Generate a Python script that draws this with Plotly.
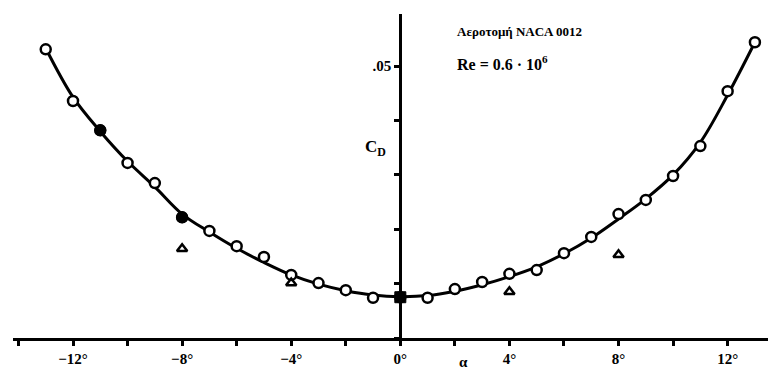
import plotly.graph_objects as go

# angle of attack (deg) for measured points
alpha_pts = [-13, -12, -11, -10, -9, -8, -7, -6, -5, -4, -3, -2, -1, 0,
             1, 2, 3, 4, 5, 6, 7, 8, 9, 10, 11, 12, 13]
cd_pts = [0.0531, 0.0436, 0.0382, 0.0322, 0.0285, 0.0222, 0.0197, 0.0169, 0.0149,
          0.0116, 0.0101, 0.0088, 0.0074, 0.0075, 0.0074, 0.0090, 0.0103, 0.0118,
          0.0125, 0.0156, 0.0186, 0.0228, 0.0254, 0.0298, 0.0353, 0.0454, 0.0544]

# filled markers
alpha_filled = [-11, -8]
cd_filled = [0.0382, 0.0222]
alpha_square = [0]
cd_square = [0.0075]

# triangle series
alpha_tri = [-8, -4, 4, 8]
cd_tri = [0.0164, 0.0101, 0.0085, 0.0153]

# smooth fitted curve
alpha_curve = [-13, -12, -11, -10, -9, -8, -7, -6, -5, -4, -3, -2, -1, 0,
               1, 2, 3, 4, 5, 6, 7, 8, 9, 10, 11, 12, 13]
cd_curve = [0.0533, 0.0443, 0.0380, 0.0325, 0.0278, 0.0228, 0.0195, 0.0165, 0.0139,
            0.0116, 0.0099, 0.0087, 0.0079, 0.0076, 0.0078, 0.0086, 0.0098, 0.0113,
            0.0131, 0.0155, 0.0184, 0.0219, 0.0256, 0.0300, 0.0360, 0.0447, 0.0544]

x_tickvals = [-12, -8, -4, 0, 4, 8, 12]
x_ticktext = ["−12°", "−8°", "−4°", "0°", "4°", "8°", "12°"]
y_tickvals = [0.05]
y_ticktext = [".05"]

FONT = "Liberation Serif"
xmin, xmax = -14.2, 13.48
ymin, ymax = 0.0, 0.0596

fig = go.Figure()
fig.add_trace(go.Scatter(x=alpha_curve, y=cd_curve, mode="lines",
                         line=dict(color="black", width=3, shape="spline"),
                         hoverinfo="skip", showlegend=False))
fig.add_trace(go.Scatter(x=alpha_pts, y=cd_pts, mode="markers",
                         marker=dict(symbol="circle", size=10, color="white",
                                     line=dict(color="black", width=2.5)),
                         showlegend=False))
fig.add_trace(go.Scatter(x=alpha_filled, y=cd_filled, mode="markers",
                         marker=dict(symbol="circle", size=10, color="black",
                                     line=dict(color="black", width=2)),
                         showlegend=False))
fig.add_trace(go.Scatter(x=alpha_square, y=cd_square, mode="markers",
                         marker=dict(symbol="square", size=11, color="black",
                                     line=dict(color="black", width=1)),
                         showlegend=False))
fig.add_trace(go.Scatter(x=alpha_tri, y=cd_tri, mode="markers",
                         marker=dict(symbol="triangle-up-open", size=9, color="black",
                                     line=dict(color="black", width=2.5)),
                         showlegend=False))

tickfont = dict(family=FONT, size=15, color="black")

fig.update_layout(
    width=768, height=374,
    margin=dict(l=13, r=0, t=14, b=36),
    paper_bgcolor="white", plot_bgcolor="white",
    font=dict(family=FONT, size=14, color="black"),
    xaxis=dict(range=[xmin, xmax], tickvals=x_tickvals,
               ticktext=["<b>" + t + "</b>" for t in x_ticktext],
               showgrid=False, zeroline=False, showline=True, linecolor="black",
               linewidth=3, ticks="outside", ticklen=5, tickwidth=2.5, tickcolor="black",
               minor=dict(tickmode="linear", tick0=0, dtick=2, ticks="outside",
                          ticklen=5, tickwidth=2.5, tickcolor="black", showgrid=False),
               tickfont=tickfont, ticklabelstandoff=0),
    yaxis=dict(range=[ymin, ymax], tickvals=y_tickvals,
               ticktext=["<b>" + t + "</b>" for t in y_ticktext],
               anchor="free", position=(0 - xmin) / (xmax - xmin),
               showgrid=False, zeroline=False, showline=True, linecolor="black",
               linewidth=3, ticks="outside", ticklen=5, tickwidth=2.5, tickcolor="black",
               minor=dict(tickmode="linear", tick0=0, dtick=0.01, ticks="outside",
                          ticklen=5, tickwidth=2.5, tickcolor="black", showgrid=False),
               tickfont=tickfont, ticklabelstandoff=0),
    annotations=[
        dict(x=-0.9, y=0.035, xref="x", yref="y", text="<b>C<sub>D</sub></b>",
             showarrow=False, font=dict(family=FONT, size=17)),
        dict(x=2.3, y=-0.074, xref="x", yref="paper", yanchor="middle", text="<b>α</b>",
             showarrow=False, font=dict(family=FONT, size=15)),
        dict(x=2.0, y=0.0563, xref="x", yref="y", text="<b>Αεροτομή NACA 0012</b>",
             showarrow=False, xanchor="left", font=dict(family=FONT, size=13)),
        dict(x=2.0, y=0.0505, xref="x", yref="y", text="<b>Re = 0.6 · 10<sup>6</sup></b>",
             showarrow=False, xanchor="left", font=dict(family=FONT, size=16)),
    ],
)

fig.write_html("out.html")
